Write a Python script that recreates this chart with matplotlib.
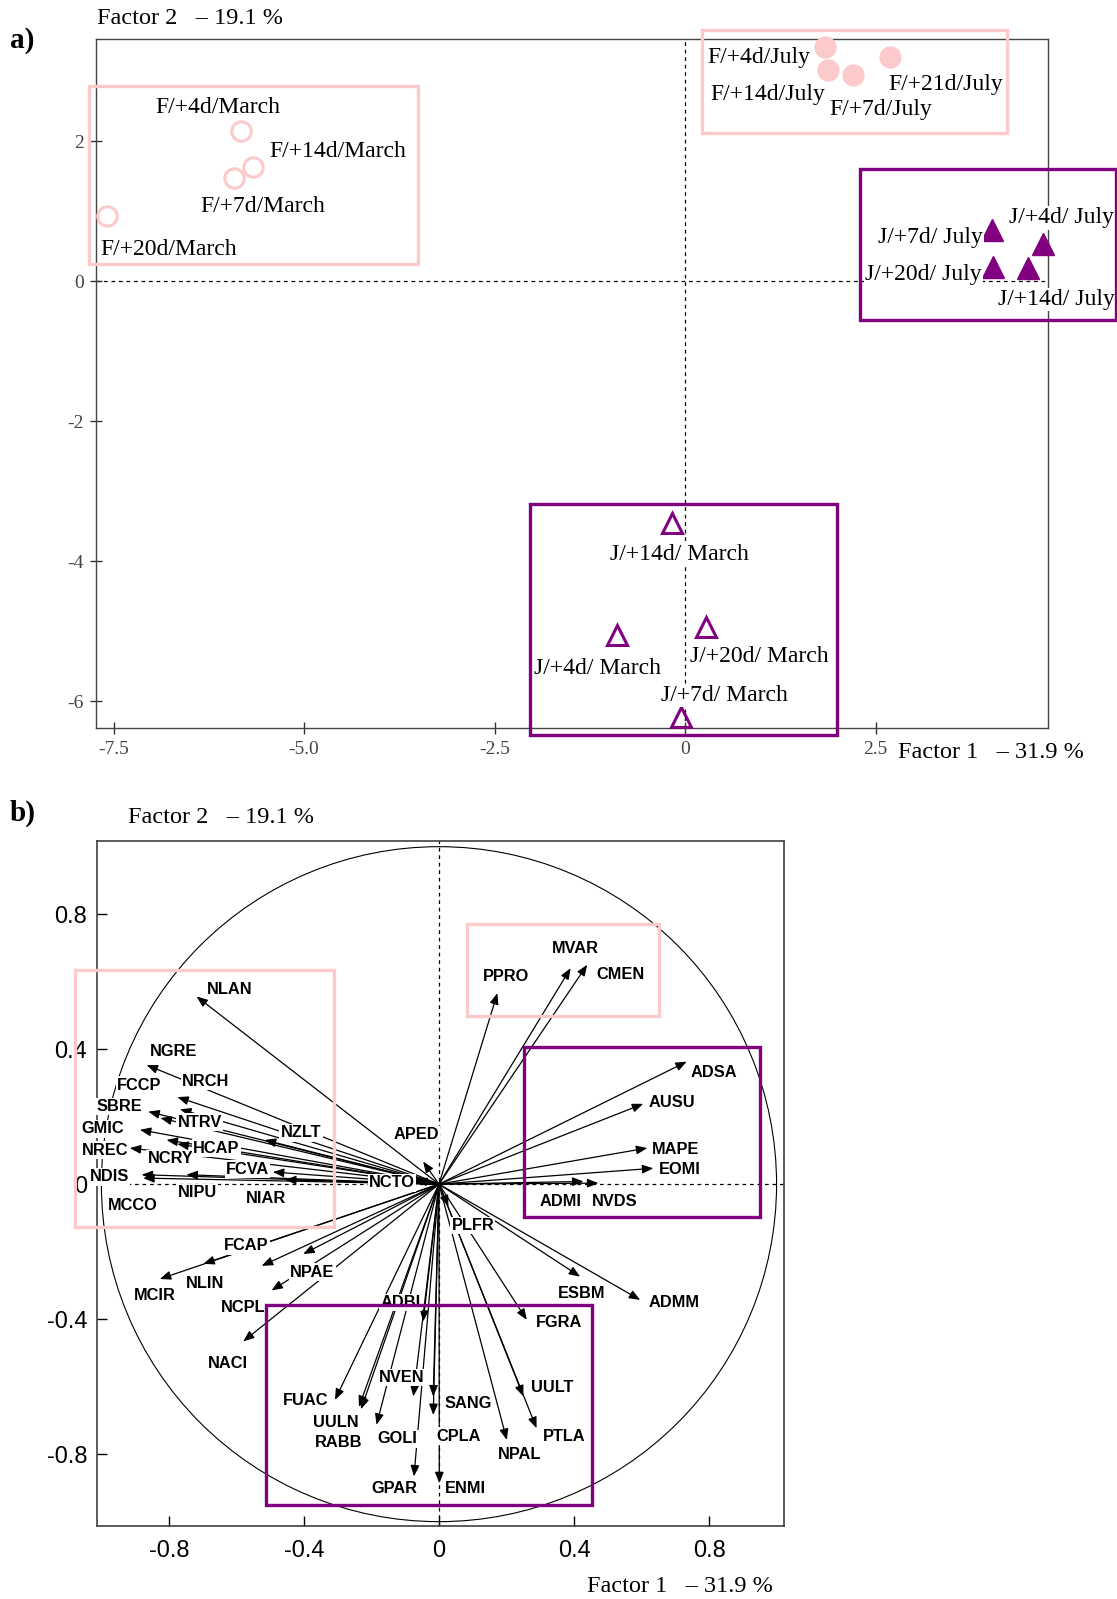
import matplotlib
matplotlib.use("Agg")
import matplotlib.pyplot as plt
from matplotlib.patches import Rectangle, Circle

plt.rcParams['axes.unicode_minus'] = False

# ---------------- DATA: panel a (sample scores) ----------------
f_march_labels = ['F/+4d/March', 'F/+14d/March', 'F/+7d/March', 'F/+20d/March']
f_march_x = [-5.83, -5.67, -5.92, -7.58]
f_march_y = [2.15, 1.63, 1.47, 0.93]

f_july_labels = ['F/+4d/July', 'F/+14d/July', 'F/+7d/July', 'F/+21d/July']
f_july_x = [1.83, 1.88, 2.20, 2.69]
f_july_y = [3.35, 3.01, 2.94, 3.20]

j_july_labels = ['J/+4d/ July', 'J/+7d/ July', 'J/+20d/ July', 'J/+14d/ July']
j_july_x = [4.69, 4.02, 4.04, 4.50]
j_july_y = [0.53, 0.73, 0.20, 0.18]

j_march_labels = ['J/+14d/ March', 'J/+4d/ March', 'J/+20d/ March', 'J/+7d/ March']
j_march_x = [-0.175, -0.90, 0.27, -0.06]
j_march_y = [-3.45, -5.06, -4.94, -6.23]

a_xticks = [-7.5, -5.0, -2.5, 0, 2.5]
a_xticklabels = ['-7.5', '-5.0', '-2.5', '0', '2.5']
a_yticks = [-6, -4, -2, 0, 2]
a_yticklabels = ['-6', '-4', '-2', '0', '2']

# ---------------- DATA: panel b (variable loadings) ----------------
var_names = ['NLAN', 'NGRE', 'NRCH', 'FCCP', 'SBRE', 'NTRV', 'GMIC', 'NCRY', 'HCAP',
             'NREC', 'NDIS', 'MCCO', 'NIPU', 'NZLT', 'FCVA', 'NIAR', 'APED', 'NCTO',
             'NLIN', 'MCIR', 'FCAP', 'NPAE', 'NCPL', 'NACI', 'ADBI',
             'FUAC', 'UULN', 'RABB', 'GOLI', 'NVEN', 'GPAR', 'SANG', 'CPLA', 'ENMI',
             'NPAL', 'PTLA', 'UULT', 'FGRA',
             'PPRO', 'MVAR', 'CMEN', 'ADSA', 'AUSU', 'MAPE', 'EOMI', 'ADMI', 'NVDS',
             'PLFR', 'ESBM', 'ADMM']
var_f1 = [-0.718, -0.866, -0.775, -0.767, -0.861, -0.825, -0.886, -0.807, -0.775,
          -0.916, -0.881, -0.876, -0.748, -0.516, -0.492, -0.456, -0.047, -0.068,
          -0.698, -0.827, -0.525, -0.402, -0.496, -0.580, -0.047,
          -0.308, -0.237, -0.231, -0.185, -0.076, -0.074, -0.017, -0.017, 0.001,
          0.201, 0.289, 0.250, 0.260,
          0.173, 0.390, 0.439, 0.734, 0.605, 0.617, 0.635, 0.428, 0.472,
          0.028, 0.418, 0.596]
var_f2 = [0.556, 0.353, 0.258, 0.222, 0.215, 0.196, 0.161, 0.131, 0.119,
          0.107, 0.028, 0.018, 0.028, 0.131, 0.036, 0.013, 0.067, 0.013,
          -0.236, -0.281, -0.242, -0.207, -0.315, -0.466, -0.407,
          -0.639, -0.660, -0.667, -0.713, -0.629, -0.866, -0.629, -0.684, -0.886,
          -0.758, -0.723, -0.629, -0.402,
          0.566, 0.640, 0.650, 0.363, 0.238, 0.107, 0.047, 0.008, 0.003,
          -0.066, -0.274, -0.343]

b_ticks = [-0.8, -0.4, 0, 0.4, 0.8]
b_ticklabels = ['-0.8', '-0.4', '0', '0.4', '0.8']

# ---------------- LAYOUT / STYLE ----------------
PINK = '#FCCACA'
PURPLE = '#800080'
SERIF = 'Liberation Serif'
SANS = 'Liberation Sans'

# label offsets (pixels) for panel a, per point
a_off_fm = [(-85, 23), (16, 15), (-34, -28), (-7, -34)]
a_off_fj = [(-117, -11), (-118, -24), (-24, -34), (-2, -27)]
a_off_jj = [(-34, 26), (-114, -8), (-128, -7), (-30, -31)]
a_off_jm = [(-62, -32), (-83, -33), (-16, -30), (-20, 22)]

# label offsets (pixels) for panel b, per variable
b_off = {
    'NLAN': (10, 7), 'NGRE': (3, 14), 'NRCH': (5, 16), 'FCCP': (-63, 24), 'SBRE': (-52, 5),
    'NTRV': (17, -4), 'GMIC': (-58, 1), 'NCRY': (-19, -19), 'HCAP': (16, -4), 'NREC': (-48, -2),
    'NDIS': (-52, -2), 'MCCO': (-35, -27), 'NIPU': (-9, -18), 'NZLT': (16, 7), 'FCVA': (-47, 3),
    'NIAR': (-39, -19), 'APED': (-30, 27), 'NCTO': (-47, -3),
    'NLIN': (-17, -20), 'MCIR': (-26, -17), 'FCAP': (-38, 20), 'NPAE': (-13, -18),
    'NCPL': (-51, -17), 'NACI': (-35, -22), 'ADBI': (-43, 19),
    'FUAC': (-52, -1), 'UULN': (-46, -16), 'RABB': (-46, -33), 'GOLI': (1, -14),
    'NVEN': (-34, 19), 'GPAR': (-43, -12), 'SANG': (11, -7), 'CPLA': (3, -21), 'ENMI': (6, -5),
    'NPAL': (-9, -15), 'PTLA': (6, -8), 'UULT': (8, 9), 'FGRA': (9, -3),
    'PPRO': (-15, 17), 'MVAR': (-19, 20), 'CMEN': (9, -10), 'ADSA': (4, -11), 'AUSU': (5, 1),
    'MAPE': (5, -1), 'EOMI': (6, -1), 'ADMI': (-44, -20), 'NVDS': (-6, -18),
    'PLFR': (3, -19), 'ESBM': (-22, -17), 'ADMM': (8, -3),
}

W, H = 1117, 1599
fig = plt.figure(figsize=(W / 100, H / 100), dpi=100)


def fx(px):
    return px / W


def fy(py):
    return 1 - py / H


# ================= Panel a =================
axa = fig.add_axes([fx(96), fy(728.4), fx(1048) - fx(96), fy(38.8) - fy(728.4)])
axa.set_xlim(-7.73, 4.76)
axa.set_ylim(-6.39, 3.46)
for s in axa.spines.values():
    s.set_color('#444444')
    s.set_linewidth(1.0)
axa.axhline(0, color='black', lw=0.9, ls=(0, (3, 3)), zorder=1)
axa.axvline(0, color='black', lw=0.9, ls=(0, (3, 3)), zorder=1)
axa.set_xticks(a_xticks)
axa.set_xticklabels(a_xticklabels)
axa.set_yticks(a_yticks)
axa.set_yticklabels(a_yticklabels)
axa.tick_params(direction='inout', length=8, width=1, colors='#333333', labelsize=14, pad=5)
for lab in axa.get_xticklabels() + axa.get_yticklabels():
    lab.set_family(SERIF)
    lab.set_color('#444444')

axa.plot(f_march_x, f_march_y, 'o', ms=14, mfc='none', mec=PINK, mew=2.2, clip_on=False, zorder=4)
axa.plot(f_july_x, f_july_y, 'o', ms=15, mfc=PINK, mec=PINK, clip_on=False, zorder=4)
axa.plot(j_july_x, j_july_y, '^', ms=16, mfc=PURPLE, mec=PURPLE, clip_on=False, zorder=4)
axa.plot(j_march_x, j_march_y, '^', ms=15, mfc='none', mec=PURPLE, mew=2.2, clip_on=False, zorder=4)

txt_kw = dict(textcoords='offset pixels', ha='left', va='center', fontsize=17, family=SERIF,
              bbox=dict(boxstyle='square,pad=0.05', fc='white', ec='none'), zorder=5,
              annotation_clip=False)
for labels, xs, ys, offs in [(f_march_labels, f_march_x, f_march_y, a_off_fm),
                             (f_july_labels, f_july_x, f_july_y, a_off_fj),
                             (j_july_labels, j_july_x, j_july_y, a_off_jj),
                             (j_march_labels, j_march_x, j_march_y, a_off_jm)]:
    for lab, x, y, o in zip(labels, xs, ys, offs):
        axa.annotate(lab, xy=(x, y), xytext=o, **txt_kw)

# group boxes panel a
for (x0, x1, y0, y1, c) in [(-7.82, -3.50, 0.25, 2.79, PINK),
                            (0.22, 4.22, 2.12, 3.59, PINK),
                            (2.29, 5.65, -0.56, 1.60, PURPLE),
                            (-2.04, 1.99, -6.49, -3.19, PURPLE)]:
    axa.add_patch(Rectangle((x0, y0), x1 - x0, y1 - y0, fill=False, ec=c, lw=2.4,
                            clip_on=False, zorder=6))

# ================= Panel b =================
axb = fig.add_axes([fx(97), fy(1525.7), fx(784) - fx(97), fy(840.6) - fy(1525.7)])
axb.set_xlim(-1.013, 1.022)
axb.set_ylim(-1.012, 1.018)
for s in axb.spines.values():
    s.set_color('#404040')
    s.set_linewidth(1.2)
axb.axhline(0, color='black', lw=0.9, ls=(0, (3, 3)), zorder=1)
axb.axvline(0, color='black', lw=0.9, ls=(0, (3, 3)), zorder=1)
axb.add_patch(Circle((0, 0), 1.0, fill=False, ec='black', lw=0.8, zorder=1))
axb.set_xticks(b_ticks)
axb.set_xticklabels(b_ticklabels)
axb.set_yticks(b_ticks)
axb.set_yticklabels(b_ticklabels)
axb.tick_params(axis='x', direction='in', length=7, width=1, labelsize=17, pad=10)
axb.tick_params(axis='y', direction='in', length=7, width=1, labelsize=17, pad=7)
for lab in axb.get_xticklabels() + axb.get_yticklabels():
    lab.set_family(SANS)

for name, x, y in zip(var_names, var_f1, var_f2):
    axb.annotate('', xy=(x, y), xytext=(0, 0),
                 arrowprops=dict(arrowstyle='-|>,head_length=0.55,head_width=0.22',
                                 lw=0.9, color='black', shrinkA=0, shrinkB=0,
                                 mutation_scale=12),
                 zorder=2)
for name, x, y in zip(var_names, var_f1, var_f2):
    axb.annotate(name, xy=(x, y), xytext=b_off[name], textcoords='offset pixels',
                 ha='left', va='center', fontsize=11.8, fontweight='bold', family=SANS,
                 bbox=dict(boxstyle='square,pad=0.08', fc='white', ec='none'), zorder=4)

for (x0, x1, y0, y1, c) in [(-1.077, -0.312, -0.127, 0.635, PINK),
                            (0.082, 0.652, 0.497, 0.770, PINK),
                            (0.252, 0.951, -0.096, 0.405, PURPLE),
                            (-0.513, 0.452, -0.950, -0.358, PURPLE)]:
    axb.add_patch(Rectangle((x0, y0), x1 - x0, y1 - y0, fill=False, ec=c, lw=2.4,
                            clip_on=False, zorder=6))

# ================= figure texts =================
fig.text(fx(10), fy(41), 'a)', fontsize=21, fontweight='bold', family=SERIF, va='center', ha='left')
fig.text(fx(10), fy(813), 'b)', fontsize=21, fontweight='bold', family=SERIF, va='center', ha='left')
fig.text(fx(97), fy(18.5), 'Factor 2   \u2013 19.1 %', fontsize=17.5, family=SERIF, va='center', ha='left')
fig.text(fx(898), fy(753), 'Factor 1   \u2013 31.9 %', fontsize=17.5, family=SERIF, va='center', ha='left')
fig.text(fx(127.5), fy(818), 'Factor 2   \u2013 19.1 %', fontsize=17.5, family=SERIF, va='center', ha='left')
fig.text(fx(586.6), fy(1586), 'Factor 1   \u2013 31.9 %', fontsize=17.5, family=SERIF, va='center', ha='left')

fig.savefig('out.png', dpi=100, facecolor='white')
